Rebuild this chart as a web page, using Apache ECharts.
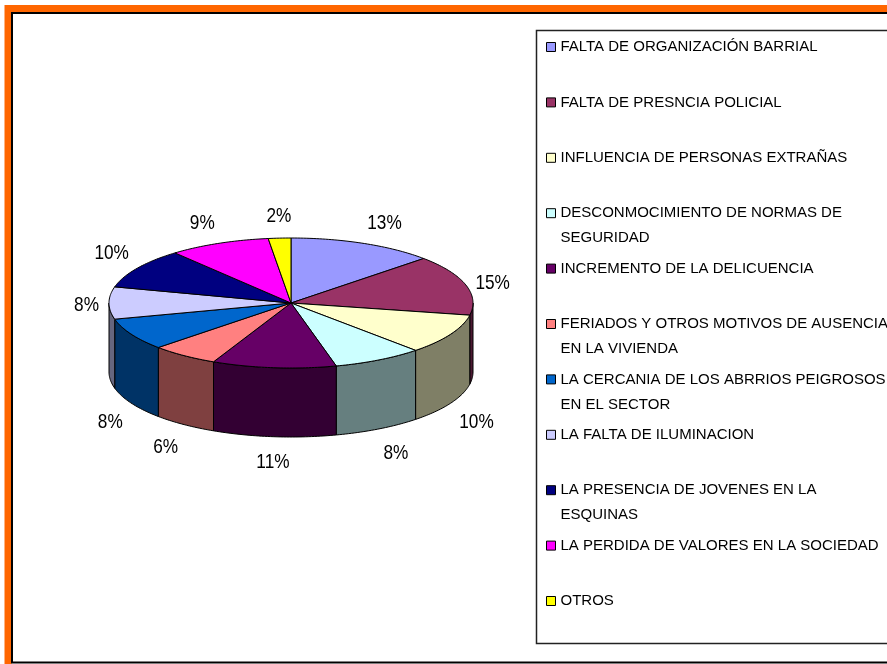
<!DOCTYPE html>
<html>
<head>
<meta charset="utf-8">
<title>pie 3d</title>
<script src="https://cdn.jsdelivr.net/npm/echarts@6/dist/echarts.min.js"></script>
<style>
    html, body {
        margin: 0;
        padding: 0;
        background: #fff;
    }
    #main {
        width: 887px;
        height: 664px;
    }
</style>
</head>
<body>
<div id="main"></div>
<script>
// data
var categories = [
    "FALTA DE ORGANIZACIÓN BARRIAL",
    "FALTA DE PRESNCIA POLICIAL",
    "INFLUENCIA DE PERSONAS EXTRAÑAS",
    "DESCONMOCIMIENTO DE NORMAS DE\nSEGURIDAD",
    "INCREMENTO DE LA DELICUENCIA",
    "FERIADOS Y OTROS MOTIVOS DE AUSENCIA\nEN LA VIVIENDA",
    "LA CERCANIA DE LOS ABRRIOS PEIGROSOS\nEN EL SECTOR",
    "LA FALTA DE ILUMINACION",
    "LA PRESENCIA DE JOVENES EN LA\nESQUINAS",
    "LA PERDIDA DE VALORES EN LA SOCIEDAD",
    "OTROS",
];
var values = [13, 15, 10, 8, 11, 6, 8, 8, 10, 9, 2];
var colors = [
    "#9999FF", "#993366", "#FFFFCC", "#CCFFFF", "#660066", "#FF8080",
    "#0066CC", "#CCCCFF", "#000080", "#FF00FF", "#FFFF00",
];

// pie layout (pixels)
var cx = 291, cy = 303, rx = 182, ry = 65, depth = 69;
var font = '"Liberation Sans", Arial, sans-serif';

var total = values.reduce(function (a, b) { return a + b; }, 0);
var starts = [];
var acc = 0;
values.forEach(function (v) {
    starts.push(acc);
    acc += v;
});

// darker colour for the side faces
function shade(hex) {
    var n = parseInt(hex.slice(1), 16);
    var r = (n >> 16) >> 1, g = ((n >> 8) & 255) >> 1, b = (n & 255) >> 1;
    return "rgb(" + r + "," + g + "," + b + ")";
}

// angle measured clockwise from 12 o'clock
function pt(a, dy) {
    return [cx + rx * Math.sin(a), cy - ry * Math.cos(a) + (dy || 0)];
}

function arc(a0, a1, dy) {
    var pts = [];
    var n = Math.max(2, Math.ceil((a1 - a0) / (Math.PI / 180)));
    for (var k = 0; k <= n; k++) {
        pts.push(pt(a0 + (a1 - a0) * k / n, dy));
    }
    return pts;
}

function renderSlice(i, api) {
    var v = api.value(0);
    var a0 = starts[i] / total * Math.PI * 2;
    var a1 = a0 + v / total * Math.PI * 2;
    var children = [];

    // side (front half only)
    var s = Math.max(a0, Math.PI / 2);
    var e = Math.min(a1, Math.PI * 1.5);
    if (s < e) {
        var side = arc(s, e, 0).concat(arc(s, e, depth).reverse());
        children.push({
            type: "polygon",
            shape: { points: side },
            style: { fill: shade(colors[i]), stroke: "#000", lineWidth: 1 },
        });
    }

    // top
    var top = [[cx, cy]].concat(arc(a0, a1, 0));
    children.push({
        type: "polygon",
        shape: { points: top },
        style: { fill: colors[i], stroke: "#000", lineWidth: 1 },
    });

    // label, squeezed a bit to look like a narrow font
    var m = (a0 + a1) / 2;
    var sn = Math.sin(m), cs = Math.cos(m);
    var front = m > Math.PI / 2 && m < Math.PI * 1.5;
    var p = pt(m, front ? depth : 0);
    var lx = p[0] + 10 * sn;
    var ly = p[1] - 13 * cs + 2;
    var align = sn > 0.3 ? "left" : sn < -0.3 ? "right" : "center";
    var valign = cs > 0.3 ? "bottom" : cs < -0.3 ? "top" : "middle";
    children.push({
        type: "text",
        x: lx,
        y: ly,
        scaleX: 0.82,
        style: {
            text: Math.round(v / total * 100) + "%",
            x: 0,
            y: 0,
            align: align,
            verticalAlign: valign,
            fill: "#000",
            font: "21px " + font,
        },
    });

    return { type: "group", children: children };
}

// legends, one per item so the spacing stays even
var legends = categories.map(function (name, i) {
    var lines = name.split("\n");
    return {
        data: [name],
        orient: "vertical",
        left: 546,
        top: 39.5 + i * 55.4,
        padding: 0,
        icon: "rect",
        itemWidth: 9,
        itemHeight: 9,
        itemStyle: { borderColor: "#000", borderWidth: 1 },
        selectedMode: false,
        formatter: function (n) {
            return n.split("\n").map(function (l) { return "{t|" + l + "}"; }).join("\n");
        },
        textStyle: {
            padding: [lines.length > 1 ? 25 : 0, 0, 0, 0],
            rich: {
                t: {
                    fontSize: 15,
                    lineHeight: 25,
                    fontFamily: font,
                    color: "#000",
                },
            },
        },
    };
});

var option = {
    animation: false,
    backgroundColor: "#fff",
    legend: legends,
    graphic: [
        {
            type: "rect",
            shape: { x: 8, y: 8.5, width: 1000, height: 1000 },
            style: { fill: "none", stroke: "#FF6600", lineWidth: 7 },
        },
        {
            type: "rect",
            shape: { x: 12, y: 13, width: 1000, height: 649.5 },
            style: { fill: "none", stroke: "#000", lineWidth: 2 },
        },
        {
            type: "rect",
            shape: { x: 536.5, y: 30.5, width: 400, height: 613 },
            style: { fill: "none", stroke: "#222", lineWidth: 1.5 },
        },
    ],
    series: categories.map(function (name, i) {
        return {
            type: "custom",
            name: name,
            coordinateSystem: "none",
            itemStyle: { color: colors[i] },
            data: [values[i]],
            renderItem: function (params, api) {
                return renderSlice(i, api);
            },
        };
    }),
};

var chart = echarts.init(document.getElementById("main"));
chart.setOption(option);
</script>
</body>
</html>
